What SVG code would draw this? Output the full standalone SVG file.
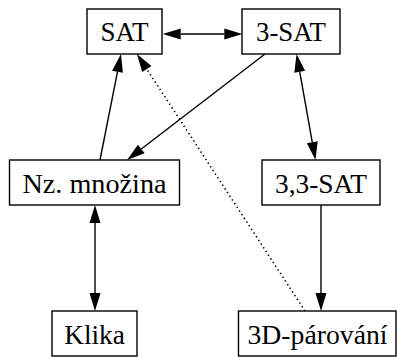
<svg xmlns="http://www.w3.org/2000/svg" width="397" height="357" viewBox="0 0 397 357">
<style>
.box{fill:#fff;stroke:#000;stroke-width:1.4}
.lbl{font-family:"Liberation Serif","DejaVu Serif",serif;font-size:26.5px;fill:#000;text-anchor:middle}
.edge{fill:none;stroke:#000;stroke-width:1.4}
.dot{stroke-width:1.6;stroke-dasharray:1.4 3}
</style>
<defs>
<marker id="ah" markerUnits="userSpaceOnUse" markerWidth="18" markerHeight="11" refX="0" refY="5.5" orient="auto-start-reverse" overflow="visible">
<path d="M0,0 L18,5.5 L0,11 Z" fill="#000"/>
</marker>
</defs>
<g id="connectors">
<path class="edge" d="M180.7,34 L224.3,34" marker-start="url(#ah)" marker-end="url(#ah)"/>
<path class="edge" d="M100,160 L117.5,71.7" marker-end="url(#ah)"/>
<path class="edge dot" d="M305,311 L146.8,69.1" marker-end="url(#ah)"/>
<path class="edge" d="M265,54 L141.3,149" marker-end="url(#ah)"/>
<path class="edge" d="M299.7,71.7 L312.3,142.3" marker-start="url(#ah)" marker-end="url(#ah)"/>
<path class="edge" d="M95,223 L95,293" marker-start="url(#ah)" marker-end="url(#ah)"/>
<path class="edge" d="M321,205 L321,293" marker-end="url(#ah)"/>
</g>
<g id="sat"><rect class="box" x="87" y="9" width="75" height="45"/><text class="lbl" x="124.5" y="41" textLength="48" lengthAdjust="spacingAndGlyphs">SAT</text></g>
<g id="sat3"><rect class="box" x="242" y="9" width="98" height="45"/><text class="lbl" x="291" y="41" textLength="70" lengthAdjust="spacingAndGlyphs">3-SAT</text></g>
<g id="nz"><rect class="box" x="9.5" y="160" width="170" height="45"/><text class="lbl" x="94.5" y="192.5" textLength="144" lengthAdjust="spacingAndGlyphs">Nz. množina</text></g>
<g id="sat33"><rect class="box" x="262" y="160" width="118" height="45"/><text class="lbl" x="321" y="192.5" textLength="92" lengthAdjust="spacingAndGlyphs">3,3-SAT</text></g>
<g id="klika"><rect class="box" x="52" y="311" width="85" height="45"/><text class="lbl" x="94.5" y="343.5" textLength="60.5" lengthAdjust="spacingAndGlyphs">Klika</text></g>
<g id="par3d"><rect class="box" x="238.5" y="311" width="157.5" height="45"/><text class="lbl" x="317.5" y="343.5" textLength="140" lengthAdjust="spacingAndGlyphs">3D-párování</text></g>
</svg>
